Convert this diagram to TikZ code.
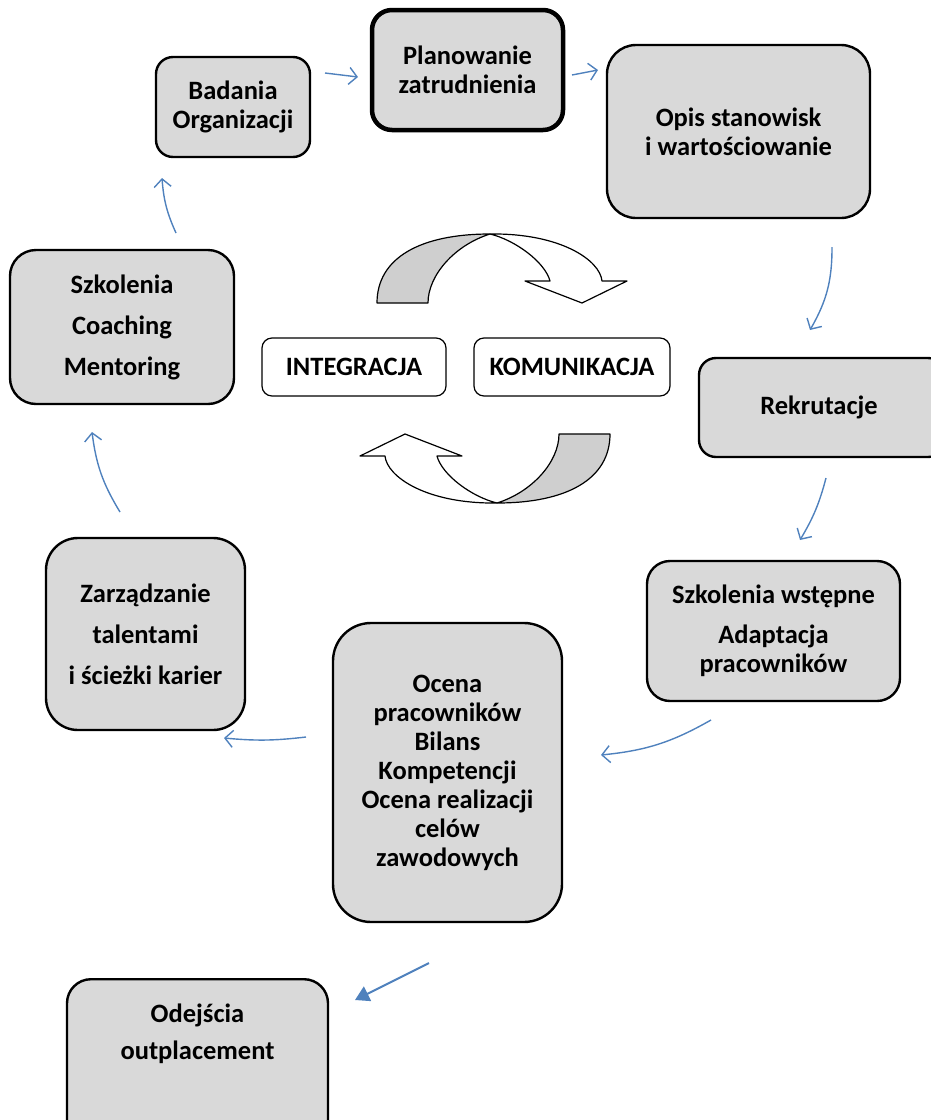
\documentclass[tikz,border=0pt]{standalone}
\usepackage{fontspec}
\setmainfont{Carlito}
\usetikzlibrary{arrows.meta}

\definecolor{boxgray}{HTML}{D9D9D9}
\definecolor{ribbongray}{HTML}{CFCFCF}
\definecolor{flowblue}{HTML}{4F81BD}

\tikzset{
  stage/.style={draw, line width=2.4pt, fill=boxgray, align=center, inner sep=0pt,
    font=\fontsize{26.5}{29}\selectfont\bfseries},
  tag/.style={draw, line width=1.2pt, fill=white, rounded corners=10pt, align=center,
    minimum height=58pt, font=\fontsize{26.5}{29}\selectfont\bfseries},
  flow/.style={draw=flowblue, line width=1.4pt, -{Straight Barb[length=8pt, width=17pt, line width=1.4pt]}},
  ribbon/.style={draw, line width=1.2pt, line join=round},
}

\begin{document}
\begin{tikzpicture}[x=1pt, y=-1pt]
    \useasboundingbox (0,0) rectangle (930,1120);
    % stages of the cycle
    \node[stage, rounded corners=17pt, minimum width=154pt, minimum height=100pt] (bad) at (233,107) {Badania\\Organizacji};
    \node[stage, line width=4.5pt, rounded corners=20pt, minimum width=191pt, minimum height=120pt] (plan) at (467.5,70) {Planowanie\\zatrudnienia};
    \node[stage, rounded corners=29pt, minimum width=263pt, minimum height=173pt] (opis) at (738.5,131.5) {Opis stanowisk\\i wartościowanie};
    \node[stage, rounded corners=17pt, minimum width=246pt, minimum height=99pt] (rekr) at (822,407.5) {\hspace*{-6pt}Rekrutacje};
    \node[stage, rounded corners=23pt, minimum width=253pt, minimum height=140pt] (adapt) at (773.5,631) {Szkolenia wstępne\\[11pt]Adaptacja\\pracowników};
    \node[stage, rounded corners=38pt, minimum width=229pt, minimum height=299pt] (ocena) at (447.5,772.5) {Ocena\\pracowników\\Bilans\\Kompetencji\\Ocena realizacji\\celów\\zawodowych};
    \node[stage, rounded corners=32pt, minimum width=199pt, minimum height=192pt] (talent) at (145.5,634) {Zarządzanie\\[12pt]talentami\\[12pt]i ścieżki karier};
    \node[stage, rounded corners=26pt, minimum width=224pt, minimum height=154pt] (szkol) at (122,327) {Szkolenia\\[12pt]Coaching\\[12pt]Mentoring};
    \node[stage, rounded corners=24pt, anchor=north, minimum width=261pt, inner ysep=25pt] (odej) at (197.5,978)
      {\parbox[c][150pt][t]{240pt}{\centering Odejścia\\[8pt]outplacement}};

    % centre
    \node[tag, minimum width=184pt] (integr) at (354,367) {INTEGRACJA};
    \node[tag, minimum width=196pt] (komun) at (572,367) {KOMUNIKACJA};
    \foreach \r in {0,180} {
      \begin{scope}[rotate around={\r:(493.5,368.5)}]
        \filldraw[ribbon, fill=ribbongray] (377,303) .. controls (377,258) and (420,234) .. (490,234)
          .. controls (455,245) and (428,275) .. (428,303) -- cycle;
        \filldraw[ribbon, fill=white] (490,234) .. controls (560,233) and (600,260) .. (602,281)
          -- (627,281) -- (582,303) -- (525,281) -- (550,281)
          .. controls (545,262) and (515,240) .. (490,234) -- cycle;
      \end{scope}
    }

    % arrow ends
    \coordinate (a1) at (325,73);   \coordinate (b1) at (358,77);
    \coordinate (a2) at (572,75);   \coordinate (b2) at (598,70);
    \coordinate (a3) at (832,247);  \coordinate (b3) at (810,330);
    \coordinate (a4) at (826,478);  \coordinate (b4) at (800,540);
    \coordinate (a5) at (711,720);  \coordinate (b5) at (601,755);
    \coordinate (a6) at (306,737);  \coordinate (b6) at (224,738);
    \coordinate (a7) at (120,512);  \coordinate (b7) at (92,432);
    \coordinate (a8) at (176,233);  \coordinate (b8) at (162,178);
    \coordinate (a9) at (429,963);  \coordinate (b9) at (355,1000);

    \draw[flow] (a1) -- (b1);
    \draw[flow] (a2) -- (b2);
    \draw[flow] (a3) to[bend left=15] (b3);
    \draw[flow] (a4) to[bend left=8] (b4);
    \draw[flow] (a5) to[bend left=12] (b5);
    \draw[flow] (a6) to[bend left=6] (b6);
    \draw[flow] (a7) to[bend left=12] (b7);
    \draw[flow] (a8) to[bend left=10] (b8);
    \draw[draw=flowblue, line width=2pt, -{Triangle[length=14pt, width=16pt]}] (a9) -- (b9);
\end{tikzpicture}
\end{document}
